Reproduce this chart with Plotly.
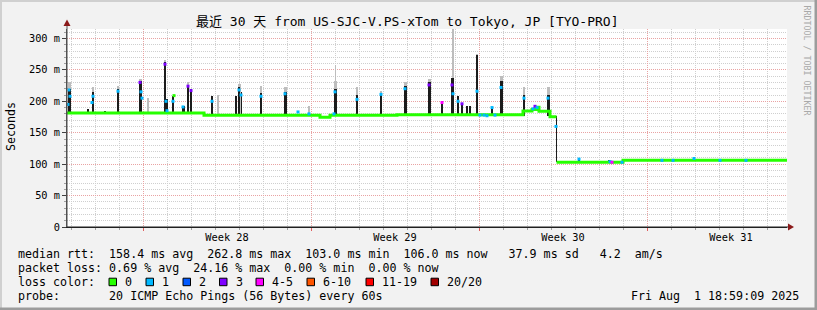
import pandas as pd
import plotly.graph_objects as go

# ---------------- data (hours since start, values in ms) ----------------
START = pd.Timestamp("2025-07-02 20:00")
END = START + pd.Timedelta(hours=720)

median_pre_h = [0, 137, 253, 263, 330, 456, 465, 469, 472, 483, 489.5]
median_pre_ms = [181.5, 177.7, 174.5, 177.7, 178.7, 184.5, 187, 190.5, 184, 175.5, 175.5]
median_post_h = [489.5, 556, 720]
median_post_ms = [103, 106, 106]

smoke_h = [2.5, 21, 25.5, 38, 51, 73.5, 98, 100, 106, 116, 121, 124, 145.5, 169, 172, 174.5,
           194, 218.5, 268, 290, 314, 338, 362, 375.5, 385, 391, 395, 400, 403, 410, 425,
           434.5, 457, 469, 481.5, 489.5, 512, 542, 627]
smoke_lo = [180, 180, 180, 180, 180, 180, 180, 180, 180, 180, 180, 180, 176, 176, 176, 176,
            176, 176, 176, 176, 176, 177, 177, 177, 177, 177, 177, 177, 177, 177, 177,
            177, 177, 184, 176, 103, 102, 102, 105]
smoke_hi = [220, 187, 214, 184, 219, 232, 262, 203, 208, 192, 226, 219, 208, 208, 222, 215,
            213, 215, 219, 210, 213, 224, 230, 200, 237, 208, 198, 192, 192, 273, 191,
            232, 210, 193, 210, 176, 109, 107, 109]
smoke_w = [3, 1, 2, 1, 2, 3, 2, 1.2, 2, 3, 1.5, 1.5, 1.5, 2, 2, 1,
           2, 2.5, 3, 2.5, 2.5, 3, 3, 1.2, 3, 1.2, 1.2, 1, 1, 2, 2,
           3, 2, 2, 3, 1, 1, 1, 1]

haze_h = [2.5, 25.5, 51, 73.5, 81, 98, 121, 151, 172, 194, 218.5, 242.5, 268, 268.5, 290,
          314, 338, 362, 386, 410, 434.5, 457, 481.5]
haze_lo = [180, 180, 180, 180, 180, 180, 180, 176, 176, 176, 176, 176, 176, 176, 176,
           176, 177, 177, 177, 177, 177, 177, 176]
haze_hi = [230, 222, 225, 236, 206, 265, 230, 210, 227, 224, 222, 192, 232, 258, 223,
           216, 231, 236, 316, 276, 240, 223, 222]
haze_w = [3, 2, 2, 3, 1, 2, 2, 1, 3, 2, 2.5, 1.5, 3, 0.8, 2.5,
          2.5, 3, 3, 0.8, 2, 3, 2, 3]

pt_h = [1, 2, 3, 25, 26, 51, 73, 74, 75, 98, 99, 100, 106, 107, 116, 121, 124, 145, 172, 174,
        194, 218, 231, 242, 267, 268, 290, 314, 338, 362, 375, 385, 386, 391, 395, 410, 413,
        417, 420, 425, 428, 434, 457, 466, 468, 470, 481, 489, 512, 543, 545, 555, 595, 606,
        627, 653, 679]
pt_ms = [195, 218, 208, 198, 208, 216, 230, 215, 205, 259, 200, 185, 200, 209, 191, 224, 217,
         200, 218, 210, 208, 212, 183, 180, 180, 215, 203, 211, 220, 226, 198, 226, 212, 200,
         196, 216, 178, 178, 177, 190, 178, 222, 205, 188, 192, 190, 205, 160, 108, 104, 103,
         103, 106, 106, 109, 106, 106]
pt_loss = [1, 1, 1, 1, 1, 1, 3, 1, 1, 3, 1, 1, 1, 0, 1, 3, 3, 1, 1, 1,
           1, 1, 1, 1, 1, 1, 1, 1, 1, 3, 4, 3, 1, 1, 3, 1, 1,
           1, 1, 1, 1, 1, 1, 1, 3, 1, 1, 1, 1, 1, 4, 1, 1, 1,
           1, 1, 1]

loss_labels = ["0", "1", "2", "3", "4-5", "6-10", "11-19", "20/20"]
loss_colors = ["#26ff00", "#00b8ff", "#0059ff", "#7e00ff", "#ff00ff", "#ff5500", "#ff0000", "#a10000"]

week_labels = ["Week 28", "Week 29", "Week 30", "Week 31"]
week_start_h = [76, 244, 412, 580]
y_ticks = [0, 50, 100, 150, 200, 250, 300]
y_ticktext = ["0", "50 m", "100 m", "150 m", "200 m", "250 m", "300 m"]

title = "最近 30 天 from US-SJC-V.PS-xTom to Tokyo, JP [TYO-PRO]"
stats_rtt = "median rtt:  158.4 ms avg  262.8 ms max  103.0 ms min  106.0 ms now   37.9 ms sd   4.2  am/s"
stats_loss = "packet loss: 0.69 % avg  24.16 % max  0.00 % min  0.00 % now"
probe_text = "probe:       20 ICMP Echo Pings (56 Bytes) every 60s"
stamp = "Fri Aug  1 18:59:09 2025"

# ---------------- helpers ----------------
def T(hours):
    return [START + pd.Timedelta(hours=h) for h in hours]

L, R, TOP, BOT = 67, 787, 29, 227
W, H = 817, 310
def PX(x):
    return (x - L) / (R - L)
def PY(y):
    return (BOT - y) / (BOT - TOP)
def nb(s):
    return s.replace(" ", "\u00a0")

MONO = "DejaVu Sans Mono"
fig = go.Figure()

# smoke haze (light)
fig.add_trace(go.Bar(x=T(haze_h), base=haze_lo, y=[h - l for h, l in zip(haze_hi, haze_lo)],
                     width=[w * 3600000 for w in haze_w], marker=dict(color="#bdbdbd", line=dict(width=0)),
                     hoverinfo="skip"))
# dark smoke
fig.add_trace(go.Bar(x=T(smoke_h), base=smoke_lo, y=[h - l for h, l in zip(smoke_hi, smoke_lo)],
                     width=[w * 3600000 for w in smoke_w], marker=dict(color="#1c1c1c", line=dict(width=0)),
                     hoverinfo="skip"))
# median line
for hs, ms in ((median_pre_h, median_pre_ms), (median_post_h, median_post_ms)):
    fig.add_trace(go.Scatter(x=T(hs), y=ms, mode="lines", line=dict(color=loss_colors[0], width=3, shape="hv"),
                             hoverinfo="skip"))
# median points coloured by loss
fig.add_trace(go.Scatter(x=T(pt_h), y=pt_ms, mode="markers",
                         marker=dict(symbol="square", size=3, color=[loss_colors[i] for i in pt_loss],
                                     line=dict(width=0)), hoverinfo="skip"))
# dummy trace for label axis
fig.add_trace(go.Scatter(x=[START, END], y=[None, None], xaxis="x2", mode="lines", hoverinfo="skip"))

day_ticks = [START + pd.Timedelta(hours=4 + 24 * k) for k in range(30)]
week_ticks = T(week_start_h)
week_centers = T([h + 84 for h in week_start_h])

red_grid = "#e9a3a3"
gray_grid = "#cfcfcf"
fig.update_layout(
    width=W, height=H, margin=dict(l=L, r=W - R, t=TOP, b=H - BOT, pad=0),
    paper_bgcolor="#f2f2f2", plot_bgcolor="#ffffff", showlegend=False, barmode="overlay", bargap=0,
    xaxis=dict(type="date", range=[START, END], tickmode="array", tickvals=week_ticks, showticklabels=False,
               ticks="outside", ticklen=3, tickcolor="#e06060", showgrid=True, gridcolor=red_grid,
               griddash="1px,1px", gridwidth=1, zeroline=False, showline=True, linecolor="#202020",
               minor=dict(tickmode="array", tickvals=day_ticks, showgrid=True, gridcolor=gray_grid,
                          griddash="1px,1px", ticks="outside", ticklen=2, tickcolor="#a0a0a0")),
    xaxis2=dict(type="date", range=[START, END], overlaying="x", anchor="y", side="bottom",
                tickmode="array", tickvals=week_centers, ticktext=week_labels, showgrid=False,
                ticks="", showline=False, zeroline=False, ticklabelstandoff=3,
                tickfont=dict(family=MONO, size=10.3, color="#000000")),
    yaxis=dict(range=[0, 315], tickmode="array", tickvals=y_ticks, ticktext=y_ticktext,
               ticks="outside", ticklen=4, tickcolor="#404040", showgrid=True, gridcolor=red_grid,
               griddash="1px,1px", gridwidth=1, zeroline=False, showline=True, linecolor="#505050",
               tickfont=dict(family=MONO, size=10.3, color="#000000"),
               minor=dict(tickmode="array", tickvals=[v for v in range(10, 320, 10) if v % 50],
                          showgrid=True, gridcolor=gray_grid, griddash="1px,1px",
                          ticks="outside", ticklen=2, tickcolor="#a0a0a0")),
)

shapes = []
# axis extensions and arrows
shapes.append(dict(type="line", xref="paper", yref="paper", x0=PX(67), x1=PX(67), y0=PY(227), y1=PY(24),
                   line=dict(color="#505050", width=1)))
shapes.append(dict(type="line", xref="paper", yref="paper", x0=PX(67), x1=PX(790), y0=PY(227), y1=PY(227),
                   line=dict(color="#202020", width=1)))
def tri(pts):
    return "M " + " L ".join(f"{PX(x)},{PY(y)}" for x, y in pts) + " Z"
shapes.append(dict(type="path", xref="paper", yref="paper", path=tri([(67, 19.5), (63.5, 26), (70.5, 26)]),
                   fillcolor="#8b1a1a", line=dict(width=0)))
shapes.append(dict(type="path", xref="paper", yref="paper", path=tri([(794, 227), (788, 223.5), (788, 230.5)]),
                   fillcolor="#8b1a1a", line=dict(width=0)))
# 3D frame
shapes.append(dict(type="rect", xref="paper", yref="paper", x0=PX(0), x1=PX(817), y0=PY(0), y1=PY(2),
                   fillcolor="#d0d0d0", line=dict(width=0), layer="above"))
shapes.append(dict(type="rect", xref="paper", yref="paper", x0=PX(0), x1=PX(2), y0=PY(0), y1=PY(310),
                   fillcolor="#d0d0d0", line=dict(width=0), layer="above"))
shapes.append(dict(type="rect", xref="paper", yref="paper", x0=PX(0), x1=PX(817), y0=PY(307.5), y1=PY(310),
                   fillcolor="#9c9c9c", line=dict(width=0), layer="above"))
shapes.append(dict(type="rect", xref="paper", yref="paper", x0=PX(814.5), x1=PX(817), y0=PY(0), y1=PY(310),
                   fillcolor="#9c9c9c", line=dict(width=0), layer="above"))

annotations = []
def txt(text, x, y, size=11.65, xanchor="left", color="#000000", angle=0, family=MONO):
    annotations.append(dict(text=nb(text), x=PX(x), y=PY(y), xref="paper", yref="paper", showarrow=False,
                            xanchor=xanchor, yanchor="middle", textangle=angle,
                            font=dict(family=family, size=size, color=color)))

txt(title, 407, 21.5, size=13, xanchor="center", family=MONO + ", Noto Sans CJK SC")
txt("Seconds", 11, 127, angle=-90, xanchor="center")
txt("RRDTOOL / TOBI OETIKER", 806.5, 60, size=8.3, xanchor="center", color="#a9a9a9", angle=90)
txt(stats_rtt, 16, 254)
txt(stats_loss, 16, 268)
txt("loss color:", 16, 282)
txt(probe_text, 16, 296)
txt(stamp, 801, 296, xanchor="right")

sq_x = [109, 146, 183, 219.5, 256, 307, 366, 431]
for lab, col, x0 in zip(loss_labels, loss_colors, sq_x):
    shapes.append(dict(type="rect", xref="paper", yref="paper", x0=PX(x0), x1=PX(x0 + 7.5),
                       y0=PY(278.2), y1=PY(285.7), fillcolor=col, line=dict(color="#000000", width=1)))
    txt(lab, x0 + 14, 282)

fig.update_layout(shapes=shapes, annotations=annotations)
fig.write_html("out.html")
